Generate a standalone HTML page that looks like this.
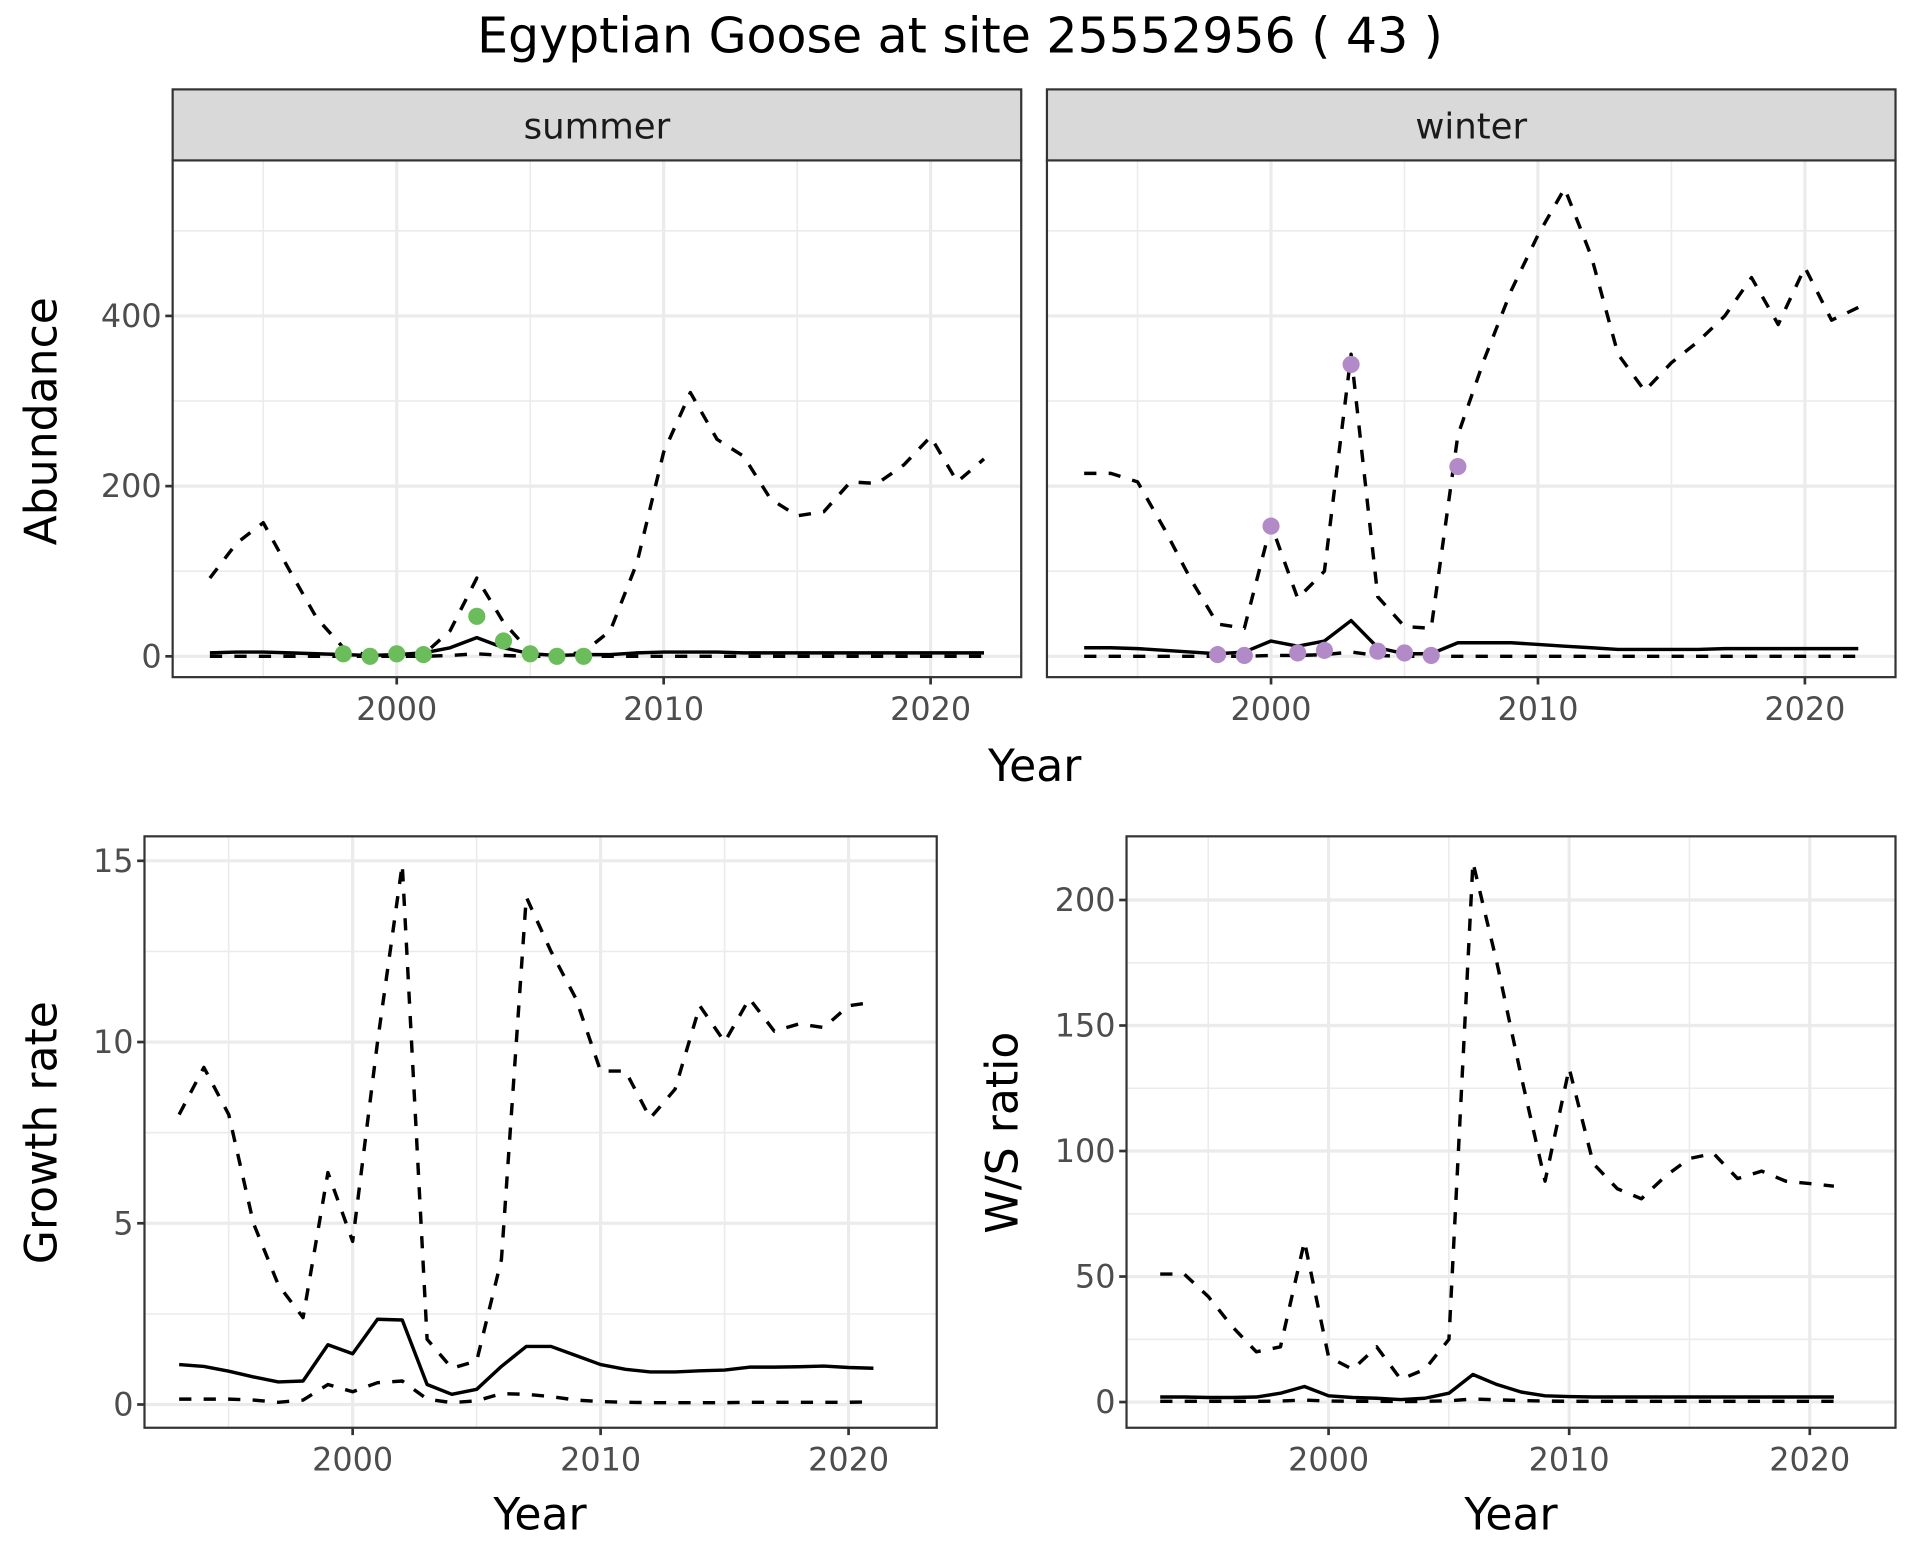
<!DOCTYPE html>
<html><head><meta charset="utf-8"><style>
html,body{margin:0;padding:0;background:#fff}
svg{display:block}
text{font-family:"DejaVu Sans","Liberation Sans",sans-serif}
</style></head><body>
<svg id="chart" width="1920" height="1560" viewBox="0 0 1568 1274" xmlns="http://www.w3.org/2000/svg">
<rect width="1568" height="1274" fill="#fff"/>
<text x="784" y="43" font-size="40" text-anchor="middle" fill="#000">Egyptian Goose at site 25552956 ( 43 )</text>
</svg>
<script>
const absYears = [1993,1994,1995,1996,1997,1998,1999,2000,2001,2002,2003,2004,2005,2006,2007,2008,2009,2010,2011,2012,2013,2014,2015,2016,2017,2018,2019,2020,2021,2022];
const summerUpper = [92,133,157,100,45,10,0,0,2,30,92,40,5,0,5,30,110,240,310,255,235,185,165,170,205,203,225,258,205,232];
const summerMid = [4,5,5,4,3,2,1,2,4,10,22,10,3,1,2,2,4,5,5,5,4,4,4,4,4,4,4,4,4,4];
const summerLower = [0,0,0,0,0,0,0,0,0,1,3,1,0,0,0,0,0,0,0,0,0,0,0,0,0,0,0,0,0,0];
const summerPtYears = [1998,1999,2000,2001,2003,2004,2005,2006,2007];
const summerPts = [3,0,3,2,47,18,3,0,0];
const winterUpper = [215,215,205,150,90,38,33,155,68,100,355,70,35,33,260,350,430,495,550,470,355,312,345,370,400,445,390,457,395,410];
const winterMid = [10,10,9,7,5,3,5,18,12,18,42,10,3,3,16,16,16,14,12,10,8,8,8,8,9,9,9,9,9,9];
const winterLower = [0,0,0,0,0,0,0,1,1,2,5,1,0,0,0,0,0,0,0,0,0,0,0,0,0,0,0,0,0,0];
const winterPtYears = [1998,1999,2000,2001,2002,2003,2004,2005,2006,2007];
const winterPts = [2,1,153,4,7,343,6,4,1,223];
const rateYears = [1993,1994,1995,1996,1997,1998,1999,2000,2001,2002,2003,2004,2005,2006,2007,2008,2009,2010,2011,2012,2013,2014,2015,2016,2017,2018,2019,2020,2021];
const growthUpper = [8.0,9.3,8.0,5.0,3.3,2.4,6.4,4.5,10.0,14.9,1.8,1.0,1.2,4.0,14.0,12.5,11.2,9.2,9.2,7.9,8.7,11.0,10.0,11.2,10.3,10.5,10.4,11.0,11.1];
const growthMid = [1.1,1.05,0.92,0.76,0.62,0.65,1.65,1.4,2.35,2.33,0.55,0.28,0.42,1.05,1.6,1.6,1.35,1.1,0.97,0.9,0.9,0.93,0.95,1.03,1.03,1.04,1.06,1.02,1.0];
const growthLower = [0.15,0.15,0.15,0.12,0.06,0.12,0.55,0.35,0.6,0.65,0.15,0.05,0.1,0.3,0.28,0.22,0.12,0.08,0.06,0.05,0.05,0.05,0.05,0.06,0.06,0.06,0.06,0.06,0.07];
const ratioUpper = [51,51,42,30,20,22,64,18,13,22,9,13,25,215,175,130,88,133,95,85,81,90,97,99,89,92,88,87,86];
const ratioMid = [2,2,1.8,1.8,2,3.5,6.2,2.5,1.8,1.5,1,1.5,3.5,11,7,4,2.5,2.2,2,2,2,2,2,2,2,2,2,2,2];
const ratioLower = [0.3,0.3,0.3,0.3,0.3,0.4,0.8,0.4,0.3,0.3,0.2,0.3,0.5,1.2,0.9,0.6,0.4,0.3,0.3,0.3,0.3,0.3,0.3,0.3,0.3,0.3,0.3,0.3,0.3];
const abundTicks = [0,200,400];
const growthTicks = [0,5,10,15];
const ratioTicks = [0,50,100,150,200];
const yearTicks = [2000,2010,2020];

const svg = document.getElementById('chart');
const NS = 'http://www.w3.org/2000/svg';
function mk(tag, attrs, parent){
  const e = document.createElementNS(NS, tag);
  for (const k in attrs) e.setAttribute(k, attrs[k]);
  (parent||svg).appendChild(e);
  return e;
}
function panel(cfg){
  const {name,x0,x1,y0,y1,xs,ys,yTicks,yMinor,showY} = cfg;
  const g = mk('g', {});
  
  
  yMinor.forEach(v=>{ mk('line',{x1:x0,x2:x1,y1:ys(v),y2:ys(v),stroke:'#ebebeb','stroke-width':1.3},g); });
  [1995,2005,2015].forEach(v=>{ mk('line',{x1:xs(v),x2:xs(v),y1:y0,y2:y1,stroke:'#ebebeb','stroke-width':1.3},g); });
  yTicks.forEach(v=>{ mk('line',{x1:x0,x2:x1,y1:ys(v),y2:ys(v),stroke:'#ebebeb','stroke-width':2.6},g); });
  yearTicks.forEach(v=>{ mk('line',{x1:xs(v),x2:xs(v),y1:y0,y2:y1,stroke:'#ebebeb','stroke-width':2.6},g); });
  yearTicks.forEach(v=>{
    mk('line',{x1:xs(v),x2:xs(v),y1:y1,y2:y1+6,stroke:'#333','stroke-width':2.2},g);
    const t = mk('text',{x:xs(v),y:y1+35,'font-size':26,fill:'#4d4d4d','text-anchor':'middle'},g);
    t.textContent = v;
    
    
  });
  if (showY) yTicks.forEach(v=>{
    mk('line',{x1:x0-6,x2:x0,y1:ys(v),y2:ys(v),stroke:'#333','stroke-width':2.2},g);
    const t = mk('text',{x:x0-9,y:ys(v)+9,'font-size':26,fill:'#4d4d4d','text-anchor':'end'},g);
    t.textContent = v;
    
    
  });
  return g;
}
function series(g, years, vals, xs, ys, dashed, nm){
  const d = years.map((y,i)=>(i?'L':'M')+xs(y).toFixed(1)+','+ys(vals[i]).toFixed(1)).join(' ');
  const p = mk('path',{d:d,fill:'none',stroke:'#000','stroke-width':2.8,'stroke-dasharray':dashed?'10,10':'none','stroke-linejoin':'round'},g);
  
  
}
function points(g, years, vals, xs, ys, col, nm){
  years.forEach((y,i)=>{
    const c = mk('circle',{cx:xs(y),cy:ys(vals[i]),r:7,fill:col},g);
    
    
  });
}
function frame(g,x0,x1,y0,y1){
  mk('rect',{x:x0,y:y0,width:x1-x0,height:y1-y0,fill:'none',stroke:'#333','stroke-width':1.8},g);
}
function label(txt,x,y,rot,nm,size){
  const t = mk('text',{x:x,y:y,'font-size':size||36,fill:'#000','text-anchor':'middle',transform:rot?`rotate(-90 ${x} ${y})`:''});
  t.textContent = txt;
  
  
}

const topY0=131, topY1=553;
const aY = v => 536 - v*(139/200);
[['summer',141,834,324,summerUpper,summerMid,summerLower,summerPtYears,summerPts,'#6abd5a',true],
 ['winter',855,1548,1038,winterUpper,winterMid,winterLower,winterPtYears,winterPts,'#b28ac8',false]].forEach(p=>{
  const [nm,x0,x1,x2000,up,mid,lo,py,pv,col,showY]=p;
  const xs = y => x2000 + (y-2000)*21.8;
  const g = panel({name:nm+'-panel',x0,x1,y0:topY0,y1:topY1,xs,ys:aY,yTicks:abundTicks,yMinor:[100,300,500],showY});
  series(g,absYears,up,xs,aY,true,nm+'-upper-bound');
  series(g,absYears,mid,xs,aY,false,nm+'-estimate');
  series(g,absYears,lo,xs,aY,true,nm+'-lower-bound');
  points(g,py,pv,xs,aY,col,nm+'-count-point');
  frame(g,x0,x1,topY0,topY1);
  const s = mk('rect',{x:x0,y:73,width:x1-x0,height:58,fill:'#d9d9d9',stroke:'#333','stroke-width':1.8},g);
  
  
  const t = mk('text',{x:(x0+x1)/2,y:113,'font-size':29,fill:'#1a1a1a','text-anchor':'middle'},g);
  t.textContent = nm;
  
  
});
label('Abundance',46,344,true,'y-axis-title-abundance');
label('Year',845,638,false,'x-axis-title-top');

{
  const x0=118,x1=765,y0=683,y1=1166;
  const xs = y => 288 + (y-2000)*20.25;
  const ys = v => 1147 - v*29.6;
  const g = panel({name:'growth-rate-panel',x0,x1,y0,y1,xs,ys,yTicks:growthTicks,yMinor:[2.5,7.5,12.5],showY:true});
  series(g,rateYears,growthUpper,xs,ys,true,'growth-upper-bound');
  series(g,rateYears,growthMid,xs,ys,false,'growth-estimate');
  series(g,rateYears,growthLower,xs,ys,true,'growth-lower-bound');
  frame(g,x0,x1,y0,y1);
  label('Growth rate',46,925,true,'y-axis-title-growth');
  label('Year',441,1249,false,'x-axis-title-growth');
}
{
  const x0=920,x1=1548,y0=683,y1=1166;
  const xs = y => 1085 + (y-2000)*19.65;
  const ys = v => 1145 - v*2.05;
  const g = panel({name:'ws-ratio-panel',x0,x1,y0,y1,xs,ys,yTicks:ratioTicks,yMinor:[25,75,125,175],showY:true});
  series(g,rateYears,ratioUpper,xs,ys,true,'ratio-upper-bound');
  series(g,rateYears,ratioMid,xs,ys,false,'ratio-estimate');
  series(g,rateYears,ratioLower,xs,ys,true,'ratio-lower-bound');
  frame(g,x0,x1,y0,y1);
  label('W/S ratio',831,925,true,'y-axis-title-ratio');
  label('Year',1234,1249,false,'x-axis-title-ratio');
}
</script>
</body></html>
